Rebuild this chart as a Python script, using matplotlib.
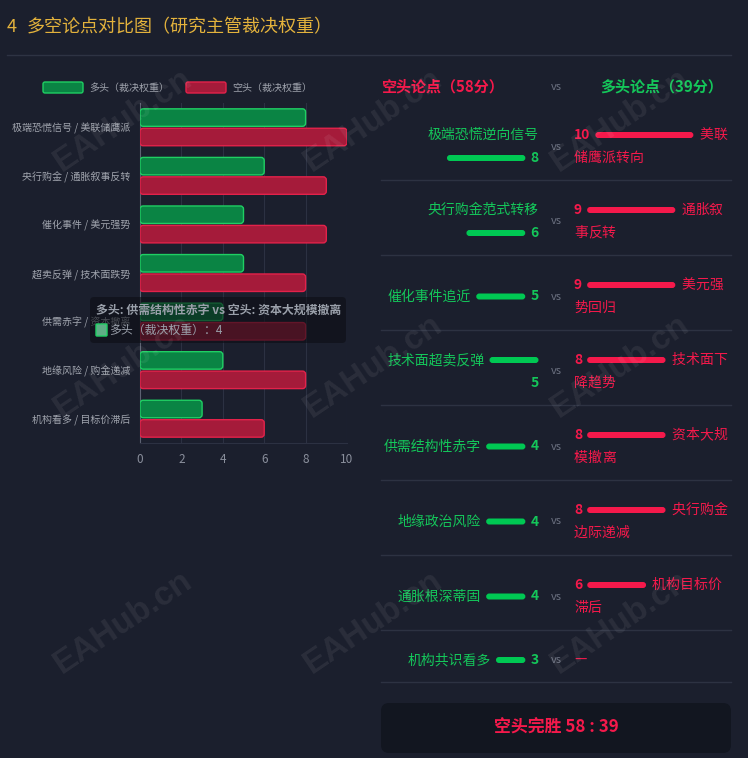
import numpy as np
import matplotlib
matplotlib.use('Agg')
import matplotlib.pyplot as plt
from matplotlib.patches import FancyBboxPatch
from matplotlib.lines import Line2D

plt.rcParams['font.family'] = ['Noto Sans CJK SC', 'DejaVu Sans']

# ---- data ----
title_no = '4'
title = '多空论点对比图（研究主管裁决权重）'
legend_bull = '多头（裁决权重）'
legend_bear = '空头（裁决权重）'
cats = ['极端恐慌信号 / 美联储鹰派', '央行购金 / 通胀叙事反转', '催化事件 / 美元强势',
        '超卖反弹 / 技术面跌势', '供需赤字 / 资本撤离', '地缘风险 / 购金递减',
        '机构看多 / 目标价滞后']
bull_w = [8, 6, 5, 5, 4, 4, 3]
bear_w = [10, 9, 9, 8, 8, 8, 6]
xticks = [0, 2, 4, 6, 8, 10]

tip_title = '多头: 供需结构性赤字 vs 空头: 资本大规模撤离'
tip_idx = 4

head_left = '空头论点（58分）'
head_right = '多头论点（39分）'
bull_args = ['极端恐慌逆向信号', '央行购金范式转移', '催化事件追近', '技术面超卖反弹',
             '供需结构性赤字', '地缘政治风险', '通胀根深蒂固', '机构共识看多']
bull_pts = [8, 6, 5, 5, 4, 4, 4, 3]
bear_args = ['美联储鹰派转向', '通胀叙事反转', '美元强势回归', '技术面下降趋势',
             '资本大规模撤离', '央行购金边际递减', '机构目标价滞后', None]
bear_pts = [10, 9, 9, 8, 8, 8, 6, None]
verdict = '空头完胜 58 : 39'

# ---- style ----
BG = '#1b1f2d'
GREEN = '#14c65a'
RED = '#f5194b'
GRAY = '#a0a4ad'
W, H = 748, 758

fig = plt.figure(figsize=(W / 100, H / 100), dpi=100, facecolor=BG)

# ---- bar chart ----
ax = fig.add_axes([140 / W, 1 - 443 / H, 207 / W, 340 / H])
ax.set_facecolor('none')
y = np.arange(len(cats))
gb = ax.barh(y - 0.2, bull_w, height=0.36)
rb = ax.barh(y + 0.2, bear_w, height=0.36)
ax.set_xlim(0, 10)
ax.set_ylim(len(cats) - 0.5, -0.5)

asp = (1 / 48.6) / (10 / 207)
def round_bars(bars, fc, ec):
    for r in bars:
        r.set_visible(False)
        p = FancyBboxPatch((r.get_x(), r.get_y()), r.get_width(), r.get_height(),
                           boxstyle='round,pad=0,rounding_size=0.15', mutation_aspect=asp,
                           fc=fc, ec=ec, lw=1, zorder=3)
        ax.add_patch(p)

round_bars(gb, '#0a8444', '#1fcf63')
round_bars(rb, '#a51b3a', '#e3224a')

ax.set_yticks(y)
ax.set_yticklabels(cats, fontsize=7.2, color=GRAY)
ax.set_xticks(xticks)
ax.set_xticklabels([str(t) for t in xticks], fontsize=8.5, color='#8a8f9c')
ax.tick_params(axis='both', length=0)
ax.tick_params(axis='y', pad=7)
ax.tick_params(axis='x', pad=7)
ax.grid(axis='x', color='#2c3142', lw=0.8, zorder=0)
for s in ['top', 'right']:
    ax.spines[s].set_visible(False)
ax.spines['left'].set_color('#5d6272')
ax.spines['bottom'].set_color('#2c3142')

# ---- overlay in pixel coords ----
ov = fig.add_axes([0, 0, 1, 1], zorder=5)
ov.set_xlim(0, W)
ov.set_ylim(H, 0)
ov.axis('off')
rend = fig.canvas.get_renderer()

def tw(s, size, weight='normal'):
    t = ov.text(0, 0, s, fontsize=size, fontweight=weight)
    w = t.get_window_extent(rend).width
    t.remove()
    return w

def pill(x0, x1, yc, color, h=6):
    ov.add_patch(FancyBboxPatch((x0, yc - h / 2), x1 - x0, h,
                                boxstyle='round,pad=0,rounding_size=%g' % (h / 2),
                                fc=color, ec='none'))

# title
ov.text(7, 27, title_no, fontsize=13, color='#e3b23c', va='center')
ov.text(27, 27, title, fontsize=13, color='#e3b23c', va='center')
ov.add_line(Line2D([7, 731], [55, 55], color='#2e3343', lw=1))

# legend
for x0, lab, fc, ec in [(43, legend_bull, '#0a8444', '#1fcf63'),
                        (186, legend_bear, '#a51b3a', '#e3224a')]:
    ov.add_patch(FancyBboxPatch((x0, 82), 40, 11, boxstyle='round,pad=0,rounding_size=2',
                                fc=fc, ec=ec, lw=1))
    ov.text(x0 + 46, 88, lab, fontsize=7.2, color=GRAY, va='center')

# headers
ov.text(381, 86, head_left, fontsize=10.8, color=RED, fontweight='bold', va='center')
ov.text(556, 87, 'vs', fontsize=8, color='#6b7080', va='center', ha='center')
ov.text(600, 86, head_right, fontsize=10.8, color=GREEN, fontweight='bold', va='center')

FS = 10
UNIT = 9.8
LH = 23
L_RIGHT, L_W = 538.5, 158
R_LEFT, R_END = 574, 731

top = 104.5
for i in range(len(bull_args)):
    # left side: label, bar, number, right aligned with wrapping
    items = [('t', bull_args[i], tw(bull_args[i], FS)),
             ('b', bull_pts[i], bull_pts[i] * UNIT),
             ('n', str(bull_pts[i]), tw(str(bull_pts[i]), FS, 'bold'))]
    llines, cur, cw = [], [], 0
    for it in items:
        add = it[2] + (5 if cur else 0)
        if cur and cw + add > L_W:
            llines.append((cur, cw))
            cur, cw = [], 0
            add = it[2]
        cur.append(it)
        cw += add
    llines.append((cur, cw))

    # right side: number, bar, label characters, left aligned with wrapping
    rlines = []
    if bear_pts[i] is None:
        rlines.append([('d', '—', R_LEFT)])
    else:
        x = R_LEFT
        line = []
        s = str(bear_pts[i])
        line.append(('n', s, x))
        x += tw(s, FS, 'bold') + 5
        bw = bear_pts[i] * UNIT
        line.append(('b', bw, x))
        x += bw + 6
        for ch in bear_args[i]:
            cw_ = tw(ch, FS)
            if x + cw_ > R_END + 0.5:
                rlines.append(line)
                line, x = [], R_LEFT
            line.append(('c', ch, x))
            x += cw_
        rlines.append(line)

    n = max(len(llines), len(rlines))
    ctop = top + 19
    mid = ctop + LH * n / 2

    off = (n - len(llines)) * LH / 2
    for k, (its, width) in enumerate(llines):
        yc = ctop + off + LH * k + LH / 2
        x = L_RIGHT - width
        for j, it in enumerate(its):
            if j:
                x += 5
            if it[0] == 't':
                ov.text(x, yc, it[1], fontsize=FS, color=GREEN, va='center')
            elif it[0] == 'b':
                pill(x, x + it[2], yc, '#00c853')
            else:
                ov.text(x, yc, it[1], fontsize=FS, color=GREEN, fontweight='bold', va='center')
            x += it[2]

    off = (n - len(rlines)) * LH / 2
    for k, line in enumerate(rlines):
        yc = ctop + off + LH * k + LH / 2
        for it in line:
            if it[0] == 'n':
                ov.text(it[2], yc, it[1], fontsize=FS, color=RED, fontweight='bold', va='center')
            elif it[0] == 'b':
                pill(it[2], it[2] + it[1], yc, RED)
            else:
                ov.text(it[2], yc, it[1], fontsize=FS, color=RED, va='center')

    ov.text(556, mid, 'vs', fontsize=8, color='#6b7080', va='center', ha='center')
    top = ctop + LH * n + 10
    ov.add_line(Line2D([381, 731], [top, top], color='#2d3242', lw=1))

# verdict box
ov.add_patch(FancyBboxPatch((381, 703), 350, 50, boxstyle='round,pad=0,rounding_size=8',
                            fc='#121620', ec='none'))
ov.text(556, 728, verdict, fontsize=12.2, color=RED, fontweight='bold', ha='center', va='center')

# tooltip
ov.add_patch(FancyBboxPatch((90, 297), 256, 46, boxstyle='round,pad=0,rounding_size=4',
                            fc='#0c0e14', ec='none', alpha=0.6))
ov.text(96, 310, tip_title, fontsize=8.6, color='#9aa0aa', fontweight='bold', va='center')
ov.add_patch(FancyBboxPatch((96, 324), 11, 12, boxstyle='round,pad=0,rounding_size=1',
                            fc='#5fae86', ec='#1fcf63', lw=1))
ov.text(109, 330, '多头（裁决权重）：%d' % bull_w[tip_idx], fontsize=8.6, color='#9aa0aa',
        va='center')

# watermarks
for cy in [120, 366, 622]:
    for cx in [123, 373, 620]:
        ov.text(cx, cy, 'EAHub.cn', fontsize=24, fontweight='bold', family='Liberation Sans',
                color='white', alpha=0.07, rotation=34, ha='center', va='center',
                rotation_mode='anchor')

fig.savefig('out.png', dpi=100, facecolor=BG)
